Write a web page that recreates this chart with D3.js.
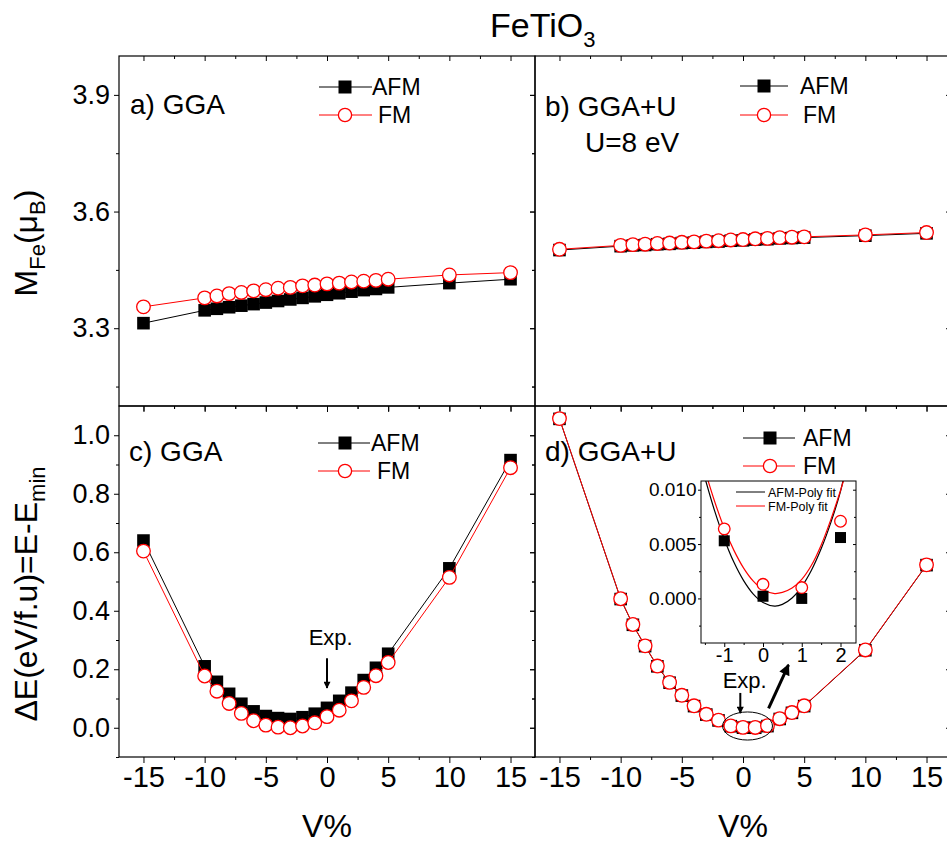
<!DOCTYPE html>
<html>
<head>
<meta charset="utf-8">
<script src="https://cdn.jsdelivr.net/npm/d3@7"></script>
<style>
body { margin: 0; background: #fff; }
text { font-family: "Liberation Sans", Arial, sans-serif; }
</style>
</head>
<body>
<svg id="chart" width="947" height="843"></svg>
<script>
// volume change (V%) shared by every panel
var volume = [-15, -10, -9, -8, -7, -6, -5, -4, -3, -2, -1, 0, 1, 2, 3, 4, 5, 10, 15];

// a) GGA, Fe moment
var momGgaAfm = [3.313, 3.346, 3.350, 3.354, 3.358, 3.362, 3.366, 3.370, 3.374, 3.378, 3.382, 3.386, 3.390, 3.394, 3.398, 3.401, 3.405, 3.416, 3.426];
var momGgaFm  = [3.355, 3.378, 3.383, 3.389, 3.392, 3.396, 3.399, 3.403, 3.405, 3.409, 3.411, 3.414, 3.416, 3.419, 3.421, 3.423, 3.426, 3.437, 3.443];
// b) GGA+U, Fe moment
var momUAfm = [3.501, 3.511, 3.513, 3.514, 3.516, 3.517, 3.519, 3.520, 3.522, 3.523, 3.525, 3.526, 3.528, 3.529, 3.531, 3.532, 3.533, 3.538, 3.544];
var momUFm  = [3.503, 3.513, 3.515, 3.516, 3.518, 3.519, 3.521, 3.522, 3.524, 3.525, 3.527, 3.528, 3.530, 3.531, 3.533, 3.534, 3.535, 3.540, 3.546];
// c) GGA, energy
var eGgaAfm = [0.640, 0.210, 0.157, 0.116, 0.082, 0.056, 0.040, 0.033, 0.030, 0.036, 0.048, 0.068, 0.092, 0.120, 0.163, 0.205, 0.253, 0.545, 0.915];
var eGgaFm  = [0.604, 0.177, 0.125, 0.083, 0.049, 0.024, 0.009, 0.002, 0.000, 0.006, 0.017, 0.038, 0.060, 0.092, 0.138, 0.178, 0.223, 0.514, 0.889];
// d) GGA+U, energy
var eUAfm = [1.056, 0.440, 0.352, 0.279, 0.210, 0.154, 0.110, 0.074, 0.045, 0.025, 0.0053, 0.0002, 0.0000, 0.0056, 0.030, 0.051, 0.074, 0.265, 0.556];
var eUFm  = [1.057, 0.441, 0.353, 0.280, 0.211, 0.155, 0.111, 0.075, 0.046, 0.026, 0.0064, 0.0013, 0.0010, 0.0071, 0.031, 0.052, 0.075, 0.266, 0.557];

// inset: points near the minimum and the poly fits
var insetVolume = [-1, 0, 1, 2];
var fitX   = [-1.5, -1.25, -1, -0.75, -0.5, -0.25, 0, 0.3, 0.5, 0.75, 1, 1.25, 1.5, 1.75, 2, 2.1];
var fitAfm = [0.0111, 0.00807, 0.00547, 0.00332, 0.00164, 0.0004, -0.00037, -0.0007, -0.00055, 0.00004, 0.00109, 0.00259, 0.00456, 0.00697, 0.00985, 0.0114];
var fitFm  = [0.0118, 0.00894, 0.00646, 0.00442, 0.00279, 0.00159, 0.00082, 0.00045, 0.00055, 0.00095, 0.00175, 0.00305, 0.0049, 0.00725, 0.00993, 0.0111];

// tick values
var xMajor = [-15, -10, -5, 0, 5, 10, 15];
var xMinor = [-12.5, -7.5, -2.5, 2.5, 7.5, 12.5];
var momMajor = [3.3, 3.6, 3.9];
var momMinor = [3.15, 3.45, 3.75];
var eMajor = [0, 0.2, 0.4, 0.6, 0.8, 1.0];
var eMinor = [-0.1, 0.1, 0.3, 0.5, 0.7, 0.9];
var insetXMajor = [-1, 0, 1, 2];
var insetXMinor = [-1.5, -0.5, 0.5, 1.5];
var insetYMajor = [0, 0.005, 0.010];
var insetYMinor = [-0.0025, 0.0025, 0.0075];

var X0 = 119, XM = 535, X1 = 951, Y0 = 56, YM = 406, Y1 = 757;
var RED = "#ff0000";

var svg = d3.select("#chart");

var defs = svg.append("defs");
function arrowHead(id, w, l) {
    defs.append("marker")
        .attr("id", id)
        .attr("markerUnits", "userSpaceOnUse")
        .attr("viewBox", "0 0 10 10")
        .attr("refX", 9).attr("refY", 5)
        .attr("markerWidth", l).attr("markerHeight", w)
        .attr("orient", "auto")
        .append("path").attr("d", "M0,0L10,5L0,10Z").attr("fill", "#000");
}
arrowHead("headSmall", 7, 11);
arrowHead("headBig", 11, 15);

var xL = d3.scaleLinear().domain([-17, 17]).range([X0, XM]);
var xR = d3.scaleLinear().domain([-17, 17]).range([XM, X1]);
var yTop = d3.scaleLinear().domain([3.1, 4.0]).range([YM, Y0]);
var yBot = d3.scaleLinear().domain([-0.1, 1.1]).range([Y1, YM]);

function styleAxis(g, size) {
    g.select(".domain").remove();
    g.selectAll("line").attr("stroke", "#000");
    g.selectAll("text").attr("font-family", "Liberation Sans, Arial, sans-serif")
        .attr("font-size", size).attr("fill", "#000");
}

function ticks(x, y, o) {
    var x0 = x.range()[0], x1 = x.range()[1];
    var y0 = y.range()[1], y1 = y.range()[0];
    // left (outward)
    svg.append("g").attr("transform", "translate(" + x0 + ",0)")
        .call(d3.axisLeft(y).tickValues(o.yMajor).tickSize(5).tickPadding(4)
            .tickFormat(o.yLabels ? d3.format(".1f") : ""))
        .call(styleAxis, 27);
    svg.append("g").attr("transform", "translate(" + x0 + ",0)")
        .call(d3.axisLeft(y).tickValues(o.yMinor).tickSize(3).tickFormat(""))
        .call(styleAxis, 27);
    // right (inward)
    svg.append("g").attr("transform", "translate(" + x1 + ",0)")
        .call(d3.axisLeft(y).tickValues(o.yMajor).tickSize(5).tickFormat(""))
        .call(styleAxis, 27);
    svg.append("g").attr("transform", "translate(" + x1 + ",0)")
        .call(d3.axisLeft(y).tickValues(o.yMinor).tickSize(3).tickFormat(""))
        .call(styleAxis, 27);
    // top (inward)
    svg.append("g").attr("transform", "translate(0," + y0 + ")")
        .call(d3.axisBottom(x).tickValues(xMajor).tickSize(5).tickFormat(""))
        .call(styleAxis, 27);
    svg.append("g").attr("transform", "translate(0," + y0 + ")")
        .call(d3.axisBottom(x).tickValues(xMinor).tickSize(3).tickFormat(""))
        .call(styleAxis, 27);
    // bottom (outward)
    svg.append("g").attr("transform", "translate(0," + y1 + ")")
        .call(d3.axisBottom(x).tickValues(xMajor).tickSize(6).tickPadding(3)
            .tickFormat(o.xLabels ? function(d) { return String(d); } : ""))
        .call(styleAxis, 29);
    svg.append("g").attr("transform", "translate(0," + y1 + ")")
        .call(d3.axisBottom(x).tickValues(xMinor).tickSize(3).tickFormat(""))
        .call(styleAxis, 29);
    svg.append("rect")
        .attr("x", x0).attr("y", y0)
        .attr("width", x1 - x0).attr("height", y1 - y0)
        .attr("fill", "none").attr("stroke", "#000").attr("stroke-width", 1.2);
}

function series(g, x, y, xs, ys, kind, sq, r) {
    var pts = xs.map(function(v, i) { return [v, ys[i]]; });
    var color = kind === "afm" ? "#000" : RED;
    g.append("path")
        .datum(pts)
        .attr("fill", "none")
        .attr("stroke", color)
        .attr("stroke-width", 1)
        .attr("d", d3.line().x(function(d) { return x(d[0]); }).y(function(d) { return y(d[1]); }));
    markers(g, x, y, pts, kind, sq, r);
}

function markers(g, x, y, pts, kind, sq, r) {
    if (kind === "afm") {
        g.selectAll(null).data(pts).enter().append("rect")
            .attr("x", function(d) { return x(d[0]) - sq / 2; })
            .attr("y", function(d) { return y(d[1]) - sq / 2; })
            .attr("width", sq).attr("height", sq)
            .attr("fill", "#000");
    } else {
        g.selectAll(null).data(pts).enter().append("circle")
            .attr("cx", function(d) { return x(d[0]); })
            .attr("cy", function(d) { return y(d[1]); })
            .attr("r", r)
            .attr("fill", "#fff")
            .attr("stroke", RED)
            .attr("stroke-width", 1.3);
    }
}

function legendRow(lx0, lx1, mx, ly, kind, label, tx, size) {
    var color = kind === "afm" ? "#000" : RED;
    svg.append("line").attr("x1", lx0).attr("x2", lx1).attr("y1", ly).attr("y2", ly)
        .attr("stroke", color).attr("stroke-width", 1);
    if (kind === "afm") {
        svg.append("rect").attr("x", mx - 6.5).attr("y", ly - 6.5).attr("width", 13).attr("height", 13).attr("fill", "#000");
    } else {
        svg.append("circle").attr("cx", mx).attr("cy", ly).attr("r", 6.6)
            .attr("fill", "#fff").attr("stroke", RED).attr("stroke-width", 1.3);
    }
    svg.append("text").attr("x", tx).attr("y", ly + size * 0.36)
        .attr("font-size", size).text(label);
}

function label(x, y, size, txt) {
    svg.append("text").attr("x", x).attr("y", y).attr("font-size", size).text(txt);
}

// panel frames and ticks
ticks(xL, yTop, {yMajor: momMajor, yMinor: momMinor, yLabels: true, xLabels: false});
ticks(xR, yTop, {yMajor: momMajor, yMinor: momMinor, yLabels: false, xLabels: false});
ticks(xL, yBot, {yMajor: eMajor, yMinor: eMinor, yLabels: true, xLabels: true});
ticks(xR, yBot, {yMajor: eMajor, yMinor: eMinor, yLabels: false, xLabels: true});

// data
var gA = svg.append("g");
series(gA, xL, yTop, volume, momGgaAfm, "afm", 12.6, 6.8);
series(gA, xL, yTop, volume, momGgaFm, "fm", 12.6, 6.8);
var gB = svg.append("g");
series(gB, xR, yTop, volume, momUAfm, "afm", 12.6, 6.8);
series(gB, xR, yTop, volume, momUFm, "fm", 12.6, 6.8);
var gC = svg.append("g");
series(gC, xL, yBot, volume, eGgaAfm, "afm", 12.6, 6.8);
series(gC, xL, yBot, volume, eGgaFm, "fm", 12.6, 6.8);
var gD = svg.append("g");
series(gD, xR, yBot, volume, eUAfm, "afm", 12.6, 6.8);
series(gD, xR, yBot, volume, eUFm, "fm", 12.6, 6.8);

// panel labels and legends
label(130, 114, 28, "a) GGA");
label(545, 116, 28, "b) GGA+U");
label(585, 152, 28, "U=8 eV");
label(129, 461, 28, "c) GGA");
label(545, 461, 28, "d) GGA+U");

legendRow(319, 372, 345, 87, "afm", "AFM", 372, 23);
legendRow(319, 372, 345, 115, "fm", "FM", 378, 23);
legendRow(740, 788, 764, 86, "afm", "AFM", 800, 23);
legendRow(740, 788, 764, 115, "fm", "FM", 803, 23);
legendRow(318, 370, 345, 443, "afm", "AFM", 371, 23);
legendRow(318, 370, 345, 471, "fm", "FM", 377, 23);
legendRow(743, 795, 770, 438, "afm", "AFM", 803, 23);
legendRow(743, 795, 770, 466, "fm", "FM", 803, 23);

// "Exp." annotations
svg.append("text").attr("x", xL(0.3)).attr("y", yBot(0.283)).attr("text-anchor", "middle")
    .attr("font-size", 22).text("Exp.");
svg.append("line").attr("x1", xL(0)).attr("x2", xL(0)).attr("y1", yBot(0.238)).attr("y2", yBot(0.136))
    .attr("stroke", "#000").attr("stroke-width", 2).attr("marker-end", "url(#headSmall)");

svg.append("text").attr("x", xR(0.14)).attr("y", yBot(0.135)).attr("text-anchor", "middle")
    .attr("font-size", 22).text("Exp.");
svg.append("line").attr("x1", xR(-0.22)).attr("x2", xR(-0.22)).attr("y1", yBot(0.119)).attr("y2", yBot(0.05))
    .attr("stroke", "#000").attr("stroke-width", 2).attr("marker-end", "url(#headSmall)");
svg.append("ellipse").attr("cx", xR(0.37)).attr("cy", yBot(0.006))
    .attr("rx", xR(2.04) - xR(0)).attr("ry", yBot(0) - yBot(0.048))
    .attr("fill", "none").attr("stroke", "#000").attr("stroke-width", 1);
svg.append("line").attr("x1", xR(2.09)).attr("y1", yBot(0.066)).attr("x2", xR(3.72)).attr("y2", yBot(0.215))
    .attr("stroke", "#000").attr("stroke-width", 3).attr("marker-end", "url(#headBig)");

// inset
var xIn = d3.scaleLinear().domain([-1.6, 2.4]).range([701, 856]);
var yIn = d3.scaleLinear().domain([-0.0041, 0.0108]).range([643, 481]);
svg.append("rect").attr("x", 701).attr("y", 481).attr("width", 155).attr("height", 162).attr("fill", "#fff");
svg.append("g").attr("transform", "translate(0,643)")
    .call(d3.axisBottom(xIn).tickValues(insetXMajor).tickSize(4).tickPadding(1)
        .tickFormat(function(d) { return String(d); }))
    .call(styleAxis, 20);
svg.append("g").attr("transform", "translate(0,643)")
    .call(d3.axisBottom(xIn).tickValues(insetXMinor).tickSize(2).tickFormat(""))
    .call(styleAxis, 20);
svg.append("g").attr("transform", "translate(701,0)")
    .call(d3.axisLeft(yIn).tickValues(insetYMajor).tickSize(3).tickPadding(1.5).tickFormat(d3.format(".3f")))
    .call(styleAxis, 19);
svg.append("g").attr("transform", "translate(701,0)")
    .call(d3.axisLeft(yIn).tickValues(insetYMinor).tickSize(2).tickFormat(""))
    .call(styleAxis, 19);
svg.append("g").attr("transform", "translate(856,0)")
    .call(d3.axisLeft(yIn).tickValues(insetYMajor).tickSize(3).tickFormat(""))
    .call(styleAxis, 19);
svg.append("g").attr("transform", "translate(856,0)")
    .call(d3.axisLeft(yIn).tickValues(insetYMinor).tickSize(2).tickFormat(""))
    .call(styleAxis, 19);

defs.append("clipPath").attr("id", "insetClip")
    .append("rect").attr("x", 701).attr("y", 481).attr("width", 155).attr("height", 162);
var gIn = svg.append("g").attr("clip-path", "url(#insetClip)");
var fitLine = d3.line().curve(d3.curveCatmullRom)
    .x(function(d) { return xIn(d[0]); }).y(function(d) { return yIn(d[1]); });
gIn.append("path").datum(fitX.map(function(v, i) { return [v, fitAfm[i]]; }))
    .attr("fill", "none").attr("stroke", "#000").attr("stroke-width", 1.2).attr("d", fitLine);
gIn.append("path").datum(fitX.map(function(v, i) { return [v, fitFm[i]]; }))
    .attr("fill", "none").attr("stroke", RED).attr("stroke-width", 1.2).attr("d", fitLine);

var insetAfmPts = insetVolume.map(function(v) { return [v, eUAfm[volume.indexOf(v)]]; });
var insetFmPts = insetVolume.map(function(v) { return [v, eUFm[volume.indexOf(v)]]; });
markers(gIn, xIn, yIn, insetAfmPts, "afm", 11, 5.8);
markers(gIn, xIn, yIn, insetFmPts, "fm", 11, 5.8);

svg.append("rect").attr("x", 701).attr("y", 481).attr("width", 155).attr("height", 162)
    .attr("fill", "none").attr("stroke", "#000").attr("stroke-width", 1);

svg.append("line").attr("x1", 736).attr("x2", 765).attr("y1", 492).attr("y2", 492).attr("stroke", "#000");
svg.append("text").attr("x", 768).attr("y", 496.5).attr("font-size", 12.5).text("AFM-Poly fit");
svg.append("line").attr("x1", 736).attr("x2", 765).attr("y1", 506).attr("y2", 506).attr("stroke", RED);
svg.append("text").attr("x", 768).attr("y", 510.5).attr("font-size", 12.5).text("FM-Poly fit");

// titles
var title = svg.append("text").attr("x", 490).attr("y", 37).attr("font-size", 34);
title.append("tspan").text("FeTiO");
title.append("tspan").attr("dy", 10).attr("font-size", 22).text("3");

svg.append("text").attr("x", xL(0)).attr("y", 837).attr("text-anchor", "middle").attr("font-size", 32).text("V%");
svg.append("text").attr("x", xR(0)).attr("y", 837).attr("text-anchor", "middle").attr("font-size", 32).text("V%");

var yl1 = svg.append("text").attr("transform", "translate(37,243) rotate(-90)")
    .attr("text-anchor", "middle").attr("font-size", 32);
yl1.append("tspan").text("M");
yl1.append("tspan").attr("dy", 8).attr("font-size", 22).text("Fe");
yl1.append("tspan").attr("dy", -8).text("(\u03bc");
yl1.append("tspan").attr("dy", 8).attr("font-size", 22).text("B");
yl1.append("tspan").attr("dy", -8).text(")");

var yl2 = svg.append("text").attr("transform", "translate(37,594) rotate(-90)")
    .attr("text-anchor", "middle").attr("font-size", 32);
yl2.append("tspan").text("\u0394E(eV/f.u)=E-E");
yl2.append("tspan").attr("dy", 8).attr("font-size", 22).text("min");
</script>
</body>
</html>
